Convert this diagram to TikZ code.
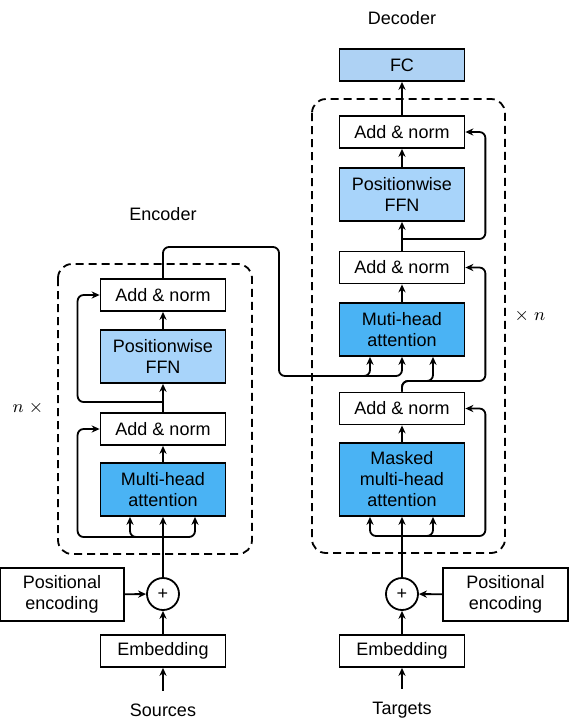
\documentclass[tikz,border=0pt]{standalone}
\usepackage{fontspec}
\setmainfont{Liberation Sans}
\usetikzlibrary{arrows.meta,calc}
\definecolor{ffnblue}{RGB}{168,212,250}
\definecolor{attblue}{RGB}{74,179,244}
\definecolor{fcblue}{RGB}{174,210,244}

\begin{document}
\begin{tikzpicture}[x=0.5pt,y=-0.5pt,
    font=\fontsize{9}{10.5}\selectfont,
    box/.style={draw, line width=0.9pt, minimum width=62.5pt, minimum height=16pt, align=center, inner sep=0pt},
    arr/.style={-{Stealth[length=4pt,width=3.6pt]}, line width=0.9pt},
    wire/.style={line width=0.9pt, rounded corners=3pt},
    stack/.style={line width=0.9pt, dash pattern=on 4pt off 2.5pt, rounded corners=7pt}]
    \useasboundingbox (0,0) rectangle (571,720);

    % Encoder
    \node[box] (eemb) at (163,651) {Embedding};
    \node[box, minimum width=62pt, minimum height=26.5pt] (epos) at (62,594.5) {Positional\\encoding};
    \node[draw, circle, line width=0.9pt, minimum size=16pt, inner sep=0pt] (eplus) at (163,594) {+};
    \node[box, fill=attblue, minimum height=26.5pt] (eatt) at (163,489.5) {Multi-head\\attention};
    \node[box] (eadd1) at (163,429) {Add \& norm};
    \node[box, fill=ffnblue, minimum height=26.5pt] (effn) at (163,356.5) {Positionwise\\FFN};
    \node[box] (eadd2) at (163,295) {Add \& norm};
    \node (src) at (163,710) {Sources};
    \node (enclabel) at (163,214) {Encoder};
    \node (encrep) at (28,408) {$n\;\times$};
    \draw[stack] (58,264) rectangle (252,554);

    % Decoder
    \node[box] (demb) at (402,651) {Embedding};
    \node[box, minimum height=26.5pt] (dpos) at (505.5,594.5) {Positional\\encoding};
    \node[draw, circle, line width=0.9pt, minimum size=16pt, inner sep=0pt] (dplus) at (402,594) {+};
    \node[box, fill=attblue, minimum height=36.5pt] (datt1) at (402,479.5) {Masked\\multi-head\\attention};
    \node[box] (dadd1) at (402,408.5) {Add \& norm};
    \node[box, fill=attblue, minimum height=26.5pt] (datt2) at (402,329.5) {Muti-head\\attention};
    \node[box] (dadd2) at (402,267.5) {Add \& norm};
    \node[box, fill=ffnblue, minimum height=26.5pt] (dffn) at (402,194.5) {Positionwise\\FFN};
    \node[box] (dadd3) at (402,132) {Add \& norm};
    \node[box, fill=fcblue] (fc) at (402,65) {FC};
    \node (tgt) at (402,710) {Targets};
    \node (declabel) at (402,18) {Decoder};
    \node (decrep) at (530,316) {$\times\;n$};
    \draw[stack] (312,99) rectangle (505,553);

    \coordinate (esplit1) at (163,537);
    \coordinate (esplit2) at (163,402);
    \coordinate (ebend) at (279,376);
    \coordinate (dsplit1) at (402,536);
    \coordinate (dsplit2) at (402,381);
    \coordinate (dsplit3) at (402,239);

    % encoder connectors
    \draw[arr, shorten <=3pt] (src) -- (eemb);
    \draw[arr] (eemb) -- (eplus);
    \draw[arr] (epos) -- (eplus);
    \draw[arr] (eplus) -- (eatt);
    \draw[arr, wire] (esplit1) -| ($(eatt.south)+(-33,0)$);
    \draw[arr, wire] (esplit1) -| ($(eatt.south)+(32,0)$);
    \draw[arr, wire] (esplit1) -| ($(eadd1.west)+(-22,0)$) -- (eadd1.west);
    \draw[arr] (eatt) -- (eadd1);
    \draw[arr] (eadd1) -- (effn);
    \draw[arr, wire] (esplit2) -| ($(eadd2.west)+(-22,0)$) -- (eadd2.west);
    \draw[arr] (effn) -- (eadd2);
    \draw[arr, wire] (eadd2.north) |- (279,247) -- (ebend) -| ($(datt2.south)+(-32,0)$);
    \draw[arr, wire] (340,376) -| (datt2.south);

    % decoder connectors
    \draw[arr, shorten <=3pt] (tgt) -- (demb);
    \draw[arr] (demb) -- (dplus);
    \draw[arr] (dpos) -- (dplus);
    \draw[arr] (dplus) -- (datt1);
    \draw[arr, wire] (dsplit1) -| ($(datt1.south)+(-32,0)$);
    \draw[arr, wire] (dsplit1) -| ($(datt1.south)+(31,0)$);
    \draw[arr, wire] (dsplit1) -| ($(dadd1.east)+(20,0)$) -- (dadd1.east);
    \draw[arr] (datt1) -- (dadd1);
    \draw[arr, wire] (dadd1.north) -- (dsplit2) -| ($(datt2.south)+(31,0)$);
    \draw[arr, wire] (dadd1.north) -- (dsplit2) -| ($(dadd2.east)+(20,0)$) -- (dadd2.east);
    \draw[arr] (datt2) -- (dadd2);
    \draw[arr] (dadd2) -- (dffn);
    \draw[arr, wire] (dsplit3) -| ($(dadd3.east)+(20,0)$) -- (dadd3.east);
    \draw[arr] (dffn) -- (dadd3);
    \draw[arr] (dadd3) -- (fc);
\end{tikzpicture}
\end{document}
